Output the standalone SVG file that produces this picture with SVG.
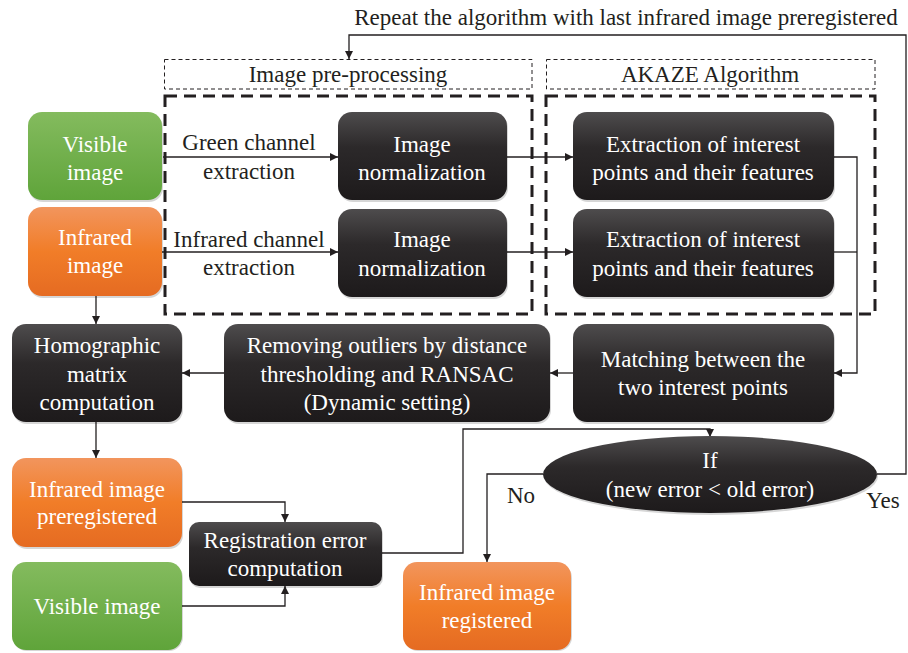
<svg xmlns="http://www.w3.org/2000/svg" width="908" height="653" viewBox="0 0 908 653">
<defs>
<linearGradient id="gDark" x1="0" y1="0" x2="0" y2="1">
<stop offset="0" stop-color="#4e4c4d"/><stop offset="0.4" stop-color="#2c292a"/><stop offset="1" stop-color="#1d1a1b"/>
</linearGradient>
<linearGradient id="gGreen" x1="0" y1="0" x2="0" y2="1">
<stop offset="0" stop-color="#84bb5e"/><stop offset="1" stop-color="#5fa43a"/>
</linearGradient>
<linearGradient id="gOrange" x1="0" y1="0" x2="0" y2="1">
<stop offset="0" stop-color="#f2955d"/><stop offset="0.5" stop-color="#f17d28"/><stop offset="1" stop-color="#e56b22"/>
</linearGradient>
<marker id="ar" viewBox="0 0 10 10" refX="10" refY="5" markerWidth="9" markerHeight="8" markerUnits="userSpaceOnUse" orient="auto">
<path d="M0,0 L10,5 L0,10 z" fill="#231f20"/>
</marker>
<style>
.w{fill:#ffffff;font-size:23px;text-anchor:middle}
.k{fill:#231f20;font-size:23px;text-anchor:middle}
.dark{fill:url(#gDark)}
.green{fill:url(#gGreen)}
.orange{fill:url(#gOrange)}
.sd{fill:#000000;fill-opacity:0.16}
.lbl{fill:none;stroke:#231f20;stroke-width:1;stroke-dasharray:4 3}
.grp{fill:none;stroke:#231f20;stroke-width:3;stroke-dasharray:12 7}
.c{fill:none;stroke:#231f20;stroke-width:1.3}
.a{marker-end:url(#ar)}
</style>
</defs>
<rect width="908" height="653" fill="#ffffff"/>

<g id="groups">
<rect class="lbl" x="164.5" y="59.5" width="367.5" height="29.5"/>
<text class="k" font-family="Liberation Serif, serif" x="348" y="82">Image pre-processing</text>
<rect class="lbl" x="546.5" y="59.5" width="328.5" height="29.5"/>
<text class="k" font-family="Liberation Serif, serif" x="710" y="82">AKAZE Algorithm</text>
<rect class="grp" x="165" y="96" width="367" height="218"/>
<rect class="grp" x="546" y="96" width="329" height="218"/>
</g>

<g id="connectors">
<path class="c a" d="M163,157 H338"/>
<path class="c a" d="M162,252 H338"/>
<path class="c a" d="M507,157 H573"/>
<path class="c a" d="M507,252 H573"/>
<path class="c a" d="M834,157 H857 V373 H834"/>
<path class="c" d="M834,252 H857"/>
<path class="c a" d="M573,373 H550"/>
<path class="c a" d="M224,373 H182"/>
<path class="c a" d="M96,296 V324"/>
<path class="c a" d="M96,422 V458"/>
<path class="c a" d="M182,502 H285 V522"/>
<path class="c a" d="M182,606 H285 V586"/>
<path class="c a" d="M382,553 H463 V429 H710 V437"/>
<path class="c a" d="M543,474 H487 V562"/>
<path class="c a" d="M877,474 H906 V35 H349 V59"/>
<text class="k" font-family="Liberation Serif, serif" x="249" y="150">Green channel</text>
<text class="k" font-family="Liberation Serif, serif" x="249" y="179">extraction</text>
<text class="k" font-family="Liberation Serif, serif" x="249" y="247">Infrared channel</text>
<text class="k" font-family="Liberation Serif, serif" x="249" y="275">extraction</text>
<text class="k" font-family="Liberation Serif, serif" x="521" y="503">No</text>
<text class="k" font-family="Liberation Serif, serif" x="883" y="508">Yes</text>
<text class="k" font-family="Liberation Serif, serif" x="626" y="25">Repeat the algorithm with last infrared image preregistered</text>
</g>

<g id="visible1">
<rect class="sd" x="29" y="114" width="134" height="88" rx="14"/>
<rect class="green" x="28" y="112" width="134" height="88" rx="14"/>
<text class="w" font-family="Liberation Serif, serif" x="95" y="152">Visible</text>
<text class="w" font-family="Liberation Serif, serif" x="95" y="180">image</text>
</g>
<g id="infrared1">
<rect class="sd" x="29" y="209" width="134" height="89" rx="14"/>
<rect class="orange" x="28" y="207" width="134" height="89" rx="14"/>
<text class="w" font-family="Liberation Serif, serif" x="95" y="245">Infrared</text>
<text class="w" font-family="Liberation Serif, serif" x="95" y="273">image</text>
</g>
<g id="norm1">
<rect class="sd" x="339" y="114" width="169" height="88" rx="14"/>
<rect class="dark" x="338" y="112" width="169" height="88" rx="14"/>
<text class="w" font-family="Liberation Serif, serif" x="422" y="152">Image</text>
<text class="w" font-family="Liberation Serif, serif" x="422" y="180">normalization</text>
</g>
<g id="norm2">
<rect class="sd" x="339" y="211" width="169" height="88" rx="14"/>
<rect class="dark" x="338" y="209" width="169" height="88" rx="14"/>
<text class="w" font-family="Liberation Serif, serif" x="422" y="247">Image</text>
<text class="w" font-family="Liberation Serif, serif" x="422" y="276">normalization</text>
</g>
<g id="extract1">
<rect class="sd" x="574" y="114" width="261" height="88" rx="14"/>
<rect class="dark" x="573" y="112" width="261" height="88" rx="14"/>
<text class="w" font-family="Liberation Serif, serif" x="703" y="152">Extraction of interest</text>
<text class="w" font-family="Liberation Serif, serif" x="703" y="180">points and their features</text>
</g>
<g id="extract2">
<rect class="sd" x="574" y="211" width="261" height="88" rx="14"/>
<rect class="dark" x="573" y="209" width="261" height="88" rx="14"/>
<text class="w" font-family="Liberation Serif, serif" x="703" y="247">Extraction of interest</text>
<text class="w" font-family="Liberation Serif, serif" x="703" y="276">points and their features</text>
</g>
<g id="homographic">
<rect class="sd" x="13" y="326" width="170" height="98" rx="14"/>
<rect class="dark" x="12" y="324" width="170" height="98" rx="14"/>
<text class="w" font-family="Liberation Serif, serif" x="97" y="353">Homographic</text>
<text class="w" font-family="Liberation Serif, serif" x="97" y="382">matrix</text>
<text class="w" font-family="Liberation Serif, serif" x="97" y="410">computation</text>
</g>
<g id="removing">
<rect class="sd" x="225" y="326" width="326" height="98" rx="14"/>
<rect class="dark" x="224" y="324" width="326" height="98" rx="14"/>
<text class="w" font-family="Liberation Serif, serif" x="387" y="353">Removing outliers by distance</text>
<text class="w" font-family="Liberation Serif, serif" x="387" y="382">thresholding and RANSAC</text>
<text class="w" font-family="Liberation Serif, serif" x="387" y="410">(Dynamic setting)</text>
</g>
<g id="matching">
<rect class="sd" x="574" y="326" width="261" height="98" rx="14"/>
<rect class="dark" x="573" y="324" width="261" height="98" rx="14"/>
<text class="w" font-family="Liberation Serif, serif" x="703" y="367">Matching between the</text>
<text class="w" font-family="Liberation Serif, serif" x="703" y="395">two interest points</text>
</g>
<g id="irprereg">
<rect class="sd" x="13" y="460" width="170" height="89" rx="14"/>
<rect class="orange" x="12" y="458" width="170" height="89" rx="14"/>
<text class="w" font-family="Liberation Serif, serif" x="97" y="497">Infrared image</text>
<text class="w" font-family="Liberation Serif, serif" x="97" y="524">preregistered</text>
</g>
<g id="visible2">
<rect class="sd" x="13" y="564" width="170" height="87" rx="14"/>
<rect class="green" x="12" y="562" width="170" height="88" rx="14"/>
<text class="w" font-family="Liberation Serif, serif" x="97" y="614">Visible image</text>
</g>
<g id="regerror">
<rect class="sd" x="190" y="524" width="193" height="64" rx="10"/>
<rect class="dark" x="189" y="522" width="193" height="64" rx="10"/>
<text class="w" font-family="Liberation Serif, serif" x="285" y="548">Registration error</text>
<text class="w" font-family="Liberation Serif, serif" x="285" y="576">computation</text>
</g>
<g id="decision">
<ellipse class="sd" cx="711" cy="476.5" rx="167" ry="38.5"/>
<ellipse class="dark" cx="710" cy="474.5" rx="167" ry="38.5"/>
<text class="w" font-family="Liberation Serif, serif" x="710" y="468">If</text>
<text class="w" font-family="Liberation Serif, serif" x="710" y="497">(new error &lt; old error)</text>
</g>
<g id="irreg">
<rect class="sd" x="404" y="564" width="168" height="87" rx="14"/>
<rect class="orange" x="403" y="562" width="168" height="88" rx="14"/>
<text class="w" font-family="Liberation Serif, serif" x="487" y="600">Infrared image</text>
<text class="w" font-family="Liberation Serif, serif" x="487" y="628">registered</text>
</g>
</svg>
